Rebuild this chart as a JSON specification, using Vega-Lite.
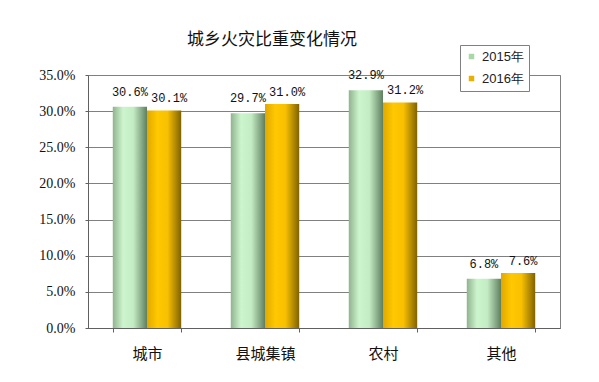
{
  "$schema": "https://vega.github.io/schema/vega-lite/v6.json",
  "width": 472,
  "height": 253,
  "autosize": {"type": "none"},
  "padding": {"left": 88, "top": 75, "right": 39, "bottom": 54},
  "background": "white",
  "title": {"text": "城乡火灾比重变化情况", "font": "Noto Sans CJK SC", "fontSize": 17, "fontWeight": "normal", "color": "#111111", "dx": -52, "offset": -4},
  "config": {"view": {"stroke": "#808080", "strokeWidth": 1}},
  "data": {"values": [
    {"region": "城市", "year": "2015年", "value": 0.306},
    {"region": "城市", "year": "2016年", "value": 0.301},
    {"region": "县城集镇", "year": "2015年", "value": 0.297},
    {"region": "县城集镇", "year": "2016年", "value": 0.310},
    {"region": "农村", "year": "2015年", "value": 0.329},
    {"region": "农村", "year": "2016年", "value": 0.312},
    {"region": "其他", "year": "2015年", "value": 0.068},
    {"region": "其他", "year": "2016年", "value": 0.076}
  ]},
  "encoding": {
    "x": {"field": "region", "type": "nominal", "sort": ["城市", "县城集镇", "农村", "其他"],
      "scale": {"paddingInner": 0.42, "paddingOuter": 0.21},
      "axis": {"title": null, "labelAngle": 0, "labelFont": "Noto Sans CJK SC", "labelFontSize": 15, "labelColor": "#111111", "labelPadding": 14,
        "domainColor": "#606060", "tickBand": "extent", "tickSize": 4, "tickColor": "#606060"}},
    "xOffset": {"field": "year", "type": "nominal", "sort": ["2015年", "2016年"]},
    "y": {"field": "value", "type": "quantitative", "scale": {"domain": [0, 0.35]},
      "axis": {"title": null, "format": ".1%", "values": [0, 0.05, 0.1, 0.15, 0.2, 0.25, 0.3, 0.35],
        "labelFont": "Liberation Serif", "labelFontSize": 14, "labelColor": "#111111", "labelPadding": 10,
        "gridColor": "#808080", "gridOpacity": 1, "domainColor": "#606060", "tickSize": 3, "tickColor": "#606060"}}
  },
  "layer": [
    {"mark": {"type": "bar"},
     "encoding": {"fill": {"condition": {"test": "datum.year === '2015年'",
        "value": {"gradient": "linear", "x1": 0, "y1": 0, "x2": 1, "y2": 0,
          "stops": [{"offset": 0, "color": "#8fb38f"}, {"offset": 0.3, "color": "#cdf5cd"}, {"offset": 0.6, "color": "#c4ecc4"}, {"offset": 1, "color": "#5f7f5f"}]}},
        "value": {"gradient": "linear", "x1": 0, "y1": 0, "x2": 1, "y2": 0,
          "stops": [{"offset": 0, "color": "#e0a800"}, {"offset": 0.3, "color": "#ffc800"}, {"offset": 0.6, "color": "#f8c000"}, {"offset": 1, "color": "#806200"}]}}}},
    {"mark": {"type": "bar", "opacity": 0},
     "encoding": {"color": {"field": "year", "type": "nominal", "sort": ["2015年", "2016年"],
        "scale": {"range": ["#a8d8a8", "#e8b000"]},
        "legend": {"title": null, "orient": "none", "legendX": 372, "legendY": -30,
          "strokeColor": "#808080", "fillColor": "white", "padding": 5,
          "labelFont": "Liberation Sans", "labelFontSize": 13, "labelColor": "#222222",
          "symbolType": "square", "symbolSize": 30, "symbolOpacity": 1, "symbolStrokeWidth": 0, "rowPadding": 8}}}},
    {"transform": [{"filter": "datum.year === '2015年'"}],
     "mark": {"type": "text", "baseline": "bottom", "dy": -8, "font": "Liberation Mono", "fontSize": 12, "color": "#111111"},
     "encoding": {"text": {"field": "value", "type": "quantitative", "format": ".1%"}}},
    {"transform": [{"filter": "datum.year === '2016年'"}],
     "mark": {"type": "text", "baseline": "bottom", "dy": -5, "dx": 5, "font": "Liberation Mono", "fontSize": 12, "color": "#111111"},
     "encoding": {"text": {"field": "value", "type": "quantitative", "format": ".1%"}}}
  ]
}
